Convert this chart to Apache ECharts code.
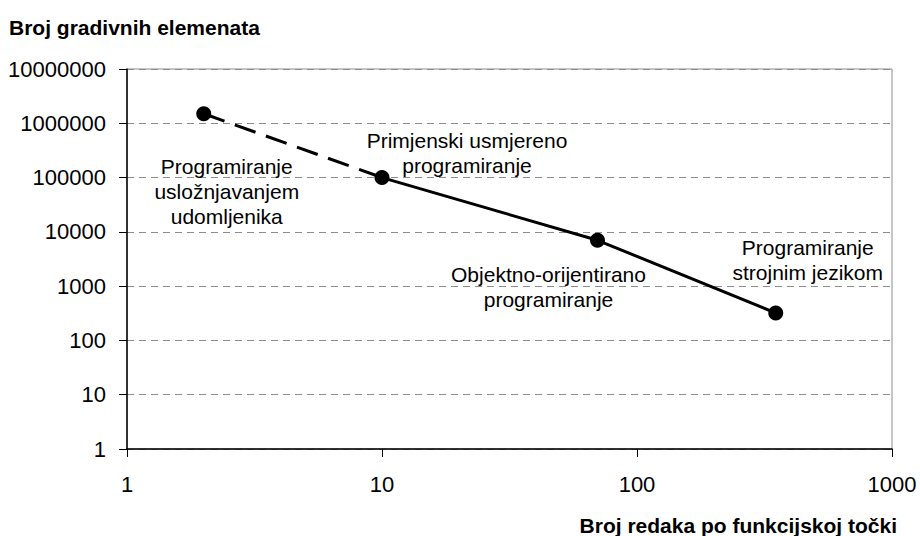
<!DOCTYPE html>
<html>
<head>
<meta charset="utf-8">
<title>Broj gradivnih elemenata</title>
<script src="https://cdn.jsdelivr.net/npm/echarts@6/dist/echarts.min.js"></script>
<style>
  html, body { margin: 0; padding: 0; background: #ffffff; }
  #chart { width: 920px; height: 536px; }
</style>
</head>
<body>
<div id="chart"></div>
<script>
// Lines of code per function point (x) vs. number of building elements (y)
const pointNames = [
  'Programiranje\nusložnjavanjem\nudomljenika',
  'Primjenski usmjereno\nprogramiranje',
  'Objektno-orijentirano\nprogramiranje',
  'Programiranje\nstrojnim jezikom'
];
const linesPerFP = [2, 10, 70, 350];
const elementCount = [1500000, 100000, 7000, 320];

// dashed segment joins the first two approaches, solid line the rest
const dashedIdx = [0, 1];
const solidIdx = [1, 2, 3];

// where each caption sits relative to its point (px)
const labelOffsets = [[23, 78], [85, -25], [-49, 47], [32, -53]];

const FONT = 'Liberation Sans, Arial, sans-serif';

const pts = linesPerFP.map((x, i) => [x, elementCount[i]]);

const chart = echarts.init(document.getElementById('chart'), null, { renderer: 'svg' });

chart.setOption({
  animation: false,
  backgroundColor: '#ffffff',
  textStyle: { fontFamily: FONT },
  title: [
    {
      text: 'Broj gradivnih elemenata',
      left: 9, top: 17, padding: 0,
      textStyle: { fontFamily: FONT, fontSize: 21, fontWeight: 'bold', color: '#000' }
    },
    {
      text: 'Broj redaka po funkcijskoj točki',
      right: 23, top: 515, padding: 0,
      textStyle: { fontFamily: FONT, fontSize: 21, fontWeight: 'bold', color: '#000' }
    }
  ],
  grid: {
    left: 127, right: 28, top: 69, bottom: 87,
    show: true, borderColor: '#8c8c8c', borderWidth: 1, backgroundColor: 'transparent'
  },
  xAxis: {
    type: 'log', logBase: 10, min: 1, max: 1000,
    axisLine: { show: true, lineStyle: { color: '#000', width: 1.5 } },
    axisTick: { show: true, length: 8, inside: false, lineStyle: { color: '#000' } },
    minorTick: { show: false },
    splitLine: { show: false },
    axisLabel: {
      margin: 24, fontSize: 22, color: '#000', fontFamily: FONT,
      formatter: v => String(Math.round(v))
    }
  },
  yAxis: {
    type: 'log', logBase: 10, min: 1, max: 10000000,
    axisLine: { show: true, lineStyle: { color: '#000', width: 1.5 } },
    axisTick: { show: true, length: 8, inside: false, lineStyle: { color: '#000' } },
    minorTick: { show: false },
    splitLine: { show: true, lineStyle: { color: '#8c8c8c', width: 1, type: [7, 5] } },
    axisLabel: {
      margin: 21, fontSize: 22, color: '#000', fontFamily: FONT,
      formatter: v => String(Math.round(v))
    }
  },
  series: [
    {
      type: 'line',
      data: dashedIdx.map(i => pts[i]),
      showSymbol: false,
      lineStyle: { color: '#000', width: 3, type: [22, 11] },
      silent: true, z: 2
    },
    {
      type: 'line',
      data: solidIdx.map(i => pts[i]),
      showSymbol: false,
      lineStyle: { color: '#000', width: 3, type: 'solid' },
      silent: true, z: 2
    },
    {
      type: 'scatter',
      symbol: 'circle',
      symbolSize: 15,
      itemStyle: { color: '#000', opacity: 1 },
      z: 3,
      data: pts.map((p, i) => ({
        value: p,
        label: {
          show: true,
          formatter: pointNames[i],
          position: 'inside',
          offset: labelOffsets[i],
          align: 'center',
          verticalAlign: 'middle',
          fontSize: 21,
          lineHeight: 25,
          color: '#000',
          opacity: 1,
          fontFamily: FONT
        }
      }))
    }
  ]
});
</script>
</body>
</html>
